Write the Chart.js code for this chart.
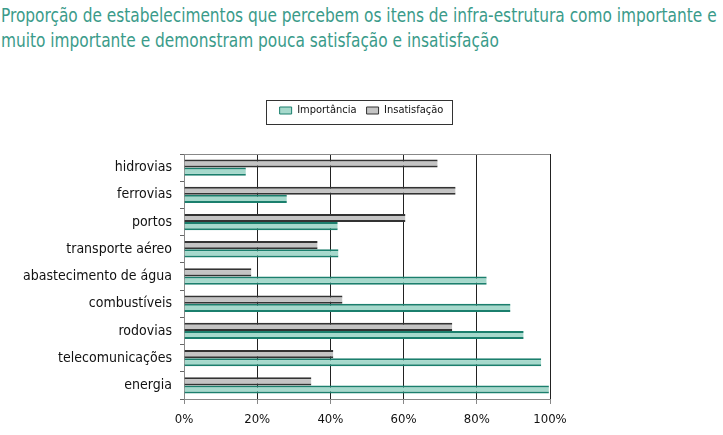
<!DOCTYPE html>
<html>
<head>
<meta charset="utf-8">
<script src="https://cdn.jsdelivr.net/npm/chart.js@4.4.1/dist/chart.umd.min.js"></script>
<style>
    body { margin: 0; background: #fff; }
    #wrap { position: relative; width: 723px; height: 435px; }
    #title {
        position: absolute; left: 1px; top: 3px; white-space: nowrap;
        font-family: "DejaVu Sans Condensed", sans-serif;
        font-size: 19px; line-height: 25px; color: #3a9b8a;
        transform: scaleX(0.9); transform-origin: left top;
    }
    canvas { position: absolute; left: 0; top: 0; }
</style>
</head>
<body>
<div id="wrap">
    <div id="title">Proporção de estabelecimentos que percebem os itens de infra-estrutura como importante e<br>muito importante e demonstram pouca satisfação e insatisfação</div>
    <canvas id="infraChart" width="723" height="435"></canvas>
</div>
<script>
const categories = ['hidrovias', 'ferrovias', 'portos', 'transporte aéreo', 'abastecimento de água',
    'combustíveis', 'rodovias', 'telecomunicações', 'energia'];
const importancia = [16.9, 28.1, 42.0, 42.2, 82.7, 89.2, 92.8, 97.6, 99.7];
const insatisfacao = [69.3, 74.2, 60.5, 36.5, 18.4, 43.3, 73.3, 40.8, 34.8];
const xTicks = [0, 20, 40, 60, 80, 100];

const FONT = '"DejaVu Sans Condensed", sans-serif';

// moldura: linha superior da área do gráfico e caixa da legenda
const framePlugin = {
    id: 'frame',
    beforeInit(chart) {
        const fit = chart.legend.fit;
        chart.legend.fit = function () {
            fit.call(this);
            this.height += 28;
        };
    },
    afterDraw(chart) {
        const { ctx, chartArea } = chart;
        ctx.save();
        ctx.strokeStyle = '#888';
        ctx.lineWidth = 1;
        ctx.beginPath();
        ctx.moveTo(chartArea.left, chartArea.top + 0.5);
        ctx.lineTo(chartArea.right, chartArea.top + 0.5);
        ctx.stroke();
        ctx.strokeStyle = '#333';
        ctx.strokeRect(266.5, 100.5, 186, 24);
        ctx.restore();
    }
};

new Chart(document.getElementById('infraChart'), {
    type: 'bar',
    data: {
        labels: categories,
        datasets: [{
            label: 'Insatisfação',
            data: insatisfacao,
            backgroundColor: '#c4c4c4',
            borderColor: '#333',
            borderWidth: { top: 2, bottom: 2, left: 0, right: 0 },
            borderSkipped: false,
            categoryPercentage: 0.6,
            barPercentage: 1.0
        }, {
            label: 'Importância',
            data: importancia,
            backgroundColor: '#a6d9cc',
            borderColor: '#1b7f6d',
            borderWidth: { top: 2, bottom: 2, left: 0, right: 0 },
            borderSkipped: false,
            categoryPercentage: 0.6,
            barPercentage: 1.0
        }]
    },
    options: {
        indexAxis: 'y',
        responsive: false,
        animation: false,
        layout: { padding: { top: 95, right: 0, bottom: 4, left: 0 } },
        plugins: {
            title: { display: false },
            tooltip: { enabled: false },
            legend: {
                reverse: true,
                labels: {
                    boxWidth: 12, boxHeight: 7, padding: 10,
                    color: '#111', font: { family: FONT, size: 11 }
                }
            }
        },
        scales: {
            x: {
                min: 0, max: 100,
                afterBuildTicks: (scale) => { scale.ticks = xTicks.map(v => ({ value: v })); },
                afterFit: (scale) => { scale.height = 32; },
                ticks: { callback: v => v + '%', color: '#111', font: { family: FONT, size: 13 }, padding: 8 },
                grid: {
                    color: (c) => c.index === 0 ? '#888' : '#222',
                    tickColor: '#888', tickLength: 5
                },
                border: { color: '#888' }
            },
            y: {
                afterFit: (scale) => { scale.width = 184; },
                ticks: { color: '#111', font: { family: FONT, size: 14 }, padding: 8 },
                grid: { offset: true, drawOnChartArea: false, tickLength: 4, tickColor: '#666' },
                border: { color: '#888' }
            },
            // eixo vazio à direita só para reservar a margem
            y2: {
                type: 'linear', position: 'right', display: true,
                afterFit: (scale) => { scale.width = 173; },
                ticks: { display: false },
                grid: { display: false },
                border: { display: false }
            }
        }
    },
    plugins: [framePlugin]
});
</script>
</body>
</html>
